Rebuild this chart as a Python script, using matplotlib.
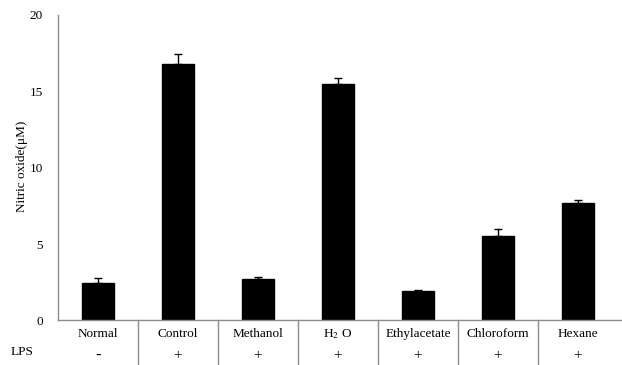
import matplotlib
matplotlib.use("Agg")
import matplotlib.pyplot as plt
import matplotlib.transforms as mtransforms
import numpy as np

# Nitric oxide production per extract
categories = ["Normal", "Control", "Methanol", "H$_{2}$ O", "Ethylacetate", "Chloroform", "Hexane"]
lps = ["-", "+", "+", "+", "+", "+", "+"]
no_mean = [2.45, 16.8, 2.7, 15.5, 1.9, 5.55, 7.67]
no_err = [0.33, 0.65, 0.17, 0.4, 0.1, 0.42, 0.2]
y_ticks = [0, 5, 10, 15, 20]

plt.rcParams["font.family"] = ["Liberation Serif", "DejaVu Serif"]
plt.rcParams["mathtext.fontset"] = "stix"

axis_color = "#8c8c8c"

fig = plt.figure(figsize=(6.22, 3.65), dpi=100)
ax = fig.add_axes([0.0932, 0.122, 0.9068, 0.837])

x = np.arange(len(categories))
ax.bar(x, no_mean, width=0.4, color="black", edgecolor="black",
       yerr=[np.zeros(len(no_err)), no_err],
       error_kw=dict(ecolor="black", elinewidth=1, capsize=3, capthick=1))

ax.set_xlim(-0.5, len(categories) - 0.5 + 0.05)
ax.set_ylim(0, 20)
ax.set_yticks(y_ticks)
ax.set_yticklabels([str(t) for t in y_ticks], fontsize=9.5)
ax.tick_params(axis="y", length=0, pad=11)
ax.set_xticks([])

for side in ["top", "right"]:
    ax.spines[side].set_visible(False)
for side in ["left", "bottom"]:
    ax.spines[side].set_color(axis_color)
    ax.spines[side].set_linewidth(1)

fig.text(22 / 622, 1 - 166 / 365, "Nitric oxide(\u03bcM)", rotation=90,
         ha="center", va="center", fontsize=9.5)

# Category table below the axis: names, LPS row and separators
trans = mtransforms.blended_transform_factory(ax.transData, ax.transAxes)
for i, (name, sign) in enumerate(zip(categories, lps)):
    ax.text(i, -0.045, name, transform=trans, ha="center", va="center", fontsize=9.5)
    ax.text(i, -0.115, sign, transform=trans, ha="center", va="center",
            fontsize=11 if sign == "+" else 12, fontweight="bold" if sign == "-" else "normal")
for b in np.arange(len(categories) - 1) + 0.5:
    ax.plot([b, b], [0, -0.15], transform=trans, color=axis_color, lw=1, clip_on=False)

fig.text(22 / 622, 1 - 352 / 365, "LPS", ha="center", va="center", fontsize=9.5)

fig.savefig("out.png", dpi=100)
